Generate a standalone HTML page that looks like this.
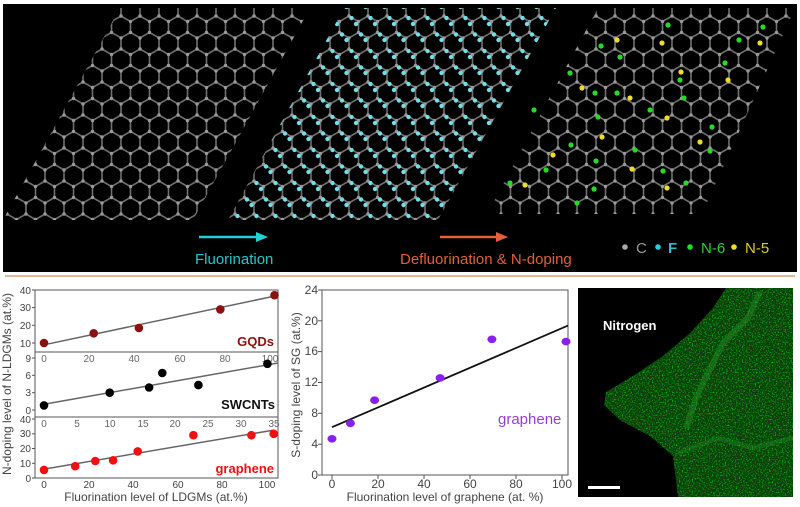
<!DOCTYPE html>
<html><head><meta charset="utf-8"><style>
html,body{margin:0;padding:0;background:#fff;width:800px;height:507px;overflow:hidden}
svg{display:block}
text{font-family:"Liberation Sans",sans-serif}
</style></head><body>
<svg width="800" height="507" viewBox="0 0 800 507" xmlns="http://www.w3.org/2000/svg">
<defs>
<pattern id="hex" patternUnits="userSpaceOnUse" width="19" height="33" patternTransform="translate(16.5,16)">
<path d="M9.5,0 L19,5.5 L19,16.5 L9.5,22 L0,16.5 L0,5.5 Z M9.5,22 L9.5,33" fill="none" stroke="#707070" stroke-width="1.6"/>
<g fill="#9a9a9a"><circle cx="9.5" cy="0" r="1.7"/><circle cx="19" cy="5.5" r="1.7"/><circle cx="19" cy="16.5" r="1.7"/><circle cx="9.5" cy="22" r="1.7"/><circle cx="0" cy="16.5" r="1.7"/><circle cx="0" cy="5.5" r="1.7"/><circle cx="9.5" cy="33" r="1.7"/></g>
</pattern>
<pattern id="fl" patternUnits="userSpaceOnUse" width="19" height="33" patternTransform="translate(16.5,16)">
<g fill="#6fe0e8"><circle cx="12" cy="2" r="2.2"/><circle cx="2.5" cy="18.5" r="2.2"/><circle cx="16.5" cy="8" r="2.2"/><circle cx="7" cy="24" r="2.2"/></g>
</pattern>
<filter id="nz" x="0" y="0" width="100%" height="100%">
<feTurbulence type="fractalNoise" baseFrequency="0.7" numOctaves="2" seed="3" result="t"/>
<feColorMatrix in="t" type="matrix" values="0 0 0 0 0  0 0 0 0 0.8  0 0 0 0 0  0 0 0 3 -1.5"/>
<feComposite in2="SourceGraphic" operator="in"/>
</filter>
</defs>
<rect x="3" y="4" width="794" height="268" fill="#000"/>
<polygon points="120,8 310,8 193,220 3,220" fill="url(#hex)"/>
<polygon points="344,8 556,8 438,220 228,220" fill="url(#hex)"/>
<polygon points="344,8 556,8 438,220 228,220" fill="url(#fl)"/>
<polygon points="598,8 795,8 702,214 487,214" fill="url(#hex)"/>
<g fill="#22dd22">
<circle cx="668" cy="25" r="2.6"/><circle cx="763" cy="27" r="2.6"/><circle cx="601" cy="46" r="2.6"/><circle cx="739" cy="40" r="2.6"/><circle cx="620" cy="57" r="2.6"/><circle cx="725" cy="63" r="2.6"/><circle cx="570" cy="73" r="2.6"/><circle cx="680" cy="80" r="2.6"/><circle cx="595" cy="93" r="2.6"/><circle cx="617" cy="93" r="2.6"/><circle cx="684" cy="98" r="2.6"/><circle cx="534" cy="110" r="2.6"/><circle cx="598" cy="117" r="2.6"/><circle cx="712" cy="127" r="2.6"/><circle cx="571" cy="145" r="2.6"/><circle cx="635" cy="150" r="2.6"/><circle cx="546" cy="170" r="2.6"/><circle cx="596" cy="161" r="2.6"/><circle cx="663" cy="171" r="2.6"/><circle cx="510" cy="183" r="2.6"/><circle cx="594" cy="189" r="2.6"/><circle cx="686" cy="183" r="2.6"/><circle cx="577" cy="203" r="2.6"/><circle cx="710" cy="151" r="2.6"/><circle cx="650" cy="110" r="2.6"/>
</g>
<g fill="#eedd22">
<circle cx="617" cy="40" r="2.6"/><circle cx="662" cy="43" r="2.6"/><circle cx="760" cy="43" r="2.6"/><circle cx="681" cy="72" r="2.6"/><circle cx="582" cy="88" r="2.6"/><circle cx="728" cy="80" r="2.6"/><circle cx="630" cy="98" r="2.6"/><circle cx="667" cy="118" r="2.6"/><circle cx="602" cy="137" r="2.6"/><circle cx="700" cy="142" r="2.6"/><circle cx="553" cy="155" r="2.6"/><circle cx="632" cy="169" r="2.6"/><circle cx="525" cy="185" r="2.6"/><circle cx="667" cy="188" r="2.6"/>
</g>
<line x1="199" y1="237" x2="258" y2="237" stroke="#22d0d8" stroke-width="2.5"/>
<polygon points="256,232 268,237 256,242" fill="#22d0d8"/>
<text x="195" y="264" font-size="15" fill="#22c8d0">Fluorination</text>
<line x1="440" y1="237" x2="498" y2="237" stroke="#e8603a" stroke-width="2.5"/>
<polygon points="496,232 508,237 496,242" fill="#e8603a"/>
<text x="400" y="264" font-size="15" fill="#e0603a">Defluorination &amp; N-doping</text>
<circle cx="625" cy="247" r="2.8" fill="#aaa"/><text x="636" y="253" font-size="15" fill="#999">C</text>
<circle cx="658" cy="247" r="2.8" fill="#33ccdd"/><text x="668" y="253" font-size="15" font-weight="bold" fill="#33bbcc">F</text>
<circle cx="690" cy="247" r="2.8" fill="#22dd22"/><text x="701" y="253" font-size="15" fill="#33cc33">N-6</text>
<circle cx="734" cy="247" r="2.8" fill="#eedd22"/><text x="745" y="253" font-size="15" fill="#ddcc22">N-5</text>
<line x1="5" y1="276" x2="795" y2="276" stroke="#e0b898" stroke-width="2"/>

<g stroke="#555" stroke-width="1" fill="none">
<rect x="35" y="290" width="243" height="188"/>
<line x1="35" y1="352" x2="278" y2="352"/>
<line x1="35" y1="417" x2="278" y2="417"/>
</g>
<g stroke="#555" stroke-width="1">
<line x1="32" y1="343" x2="35" y2="343"/><line x1="32" y1="325.3" x2="35" y2="325.3"/><line x1="32" y1="307.6" x2="35" y2="307.6"/><line x1="32" y1="290" x2="35" y2="290"/>
<line x1="32" y1="410" x2="35" y2="410"/><line x1="32" y1="392.7" x2="35" y2="392.7"/><line x1="32" y1="375.3" x2="35" y2="375.3"/><line x1="32" y1="358" x2="35" y2="358"/>
<line x1="32" y1="478" x2="35" y2="478"/><line x1="32" y1="463.3" x2="35" y2="463.3"/><line x1="32" y1="448.5" x2="35" y2="448.5"/><line x1="32" y1="433.8" x2="35" y2="433.8"/><line x1="32" y1="419" x2="35" y2="419"/>
</g>
<g font-size="10" fill="#444" text-anchor="end">
<text x="31" y="347">10</text><text x="31" y="329">20</text><text x="31" y="311">30</text><text x="31" y="294">40</text>
<text x="31" y="414">0</text><text x="31" y="396">3</text><text x="31" y="379">6</text><text x="31" y="362">9</text>
<text x="31" y="482">0</text><text x="31" y="467">10</text><text x="31" y="452">20</text><text x="31" y="437">30</text><text x="31" y="423">40</text>
</g>
<g font-size="10" fill="#666" text-anchor="middle">
<text x="44" y="362">0</text><text x="89" y="362">20</text><text x="134" y="362">40</text><text x="180" y="362">60</text><text x="225" y="362">80</text><text x="270" y="362">100</text>
<text x="44" y="427">0</text><text x="77" y="427">5</text><text x="110" y="427">10</text><text x="143" y="427">15</text><text x="175" y="427">20</text><text x="208" y="427">25</text><text x="241" y="427">30</text><text x="274" y="427">35</text>
<text x="44" y="488" fill="#444">0</text><text x="89" y="488" fill="#444">20</text><text x="133" y="488" fill="#444">40</text><text x="178" y="488" fill="#444">60</text><text x="222" y="488" fill="#444">80</text><text x="267" y="488" fill="#444">100</text>
</g>
<g stroke="#666" stroke-width="1.5">
<line x1="44" y1="344.8" x2="274.5" y2="296.1"/>
<line x1="44" y1="404.2" x2="278" y2="363"/>
<line x1="44" y1="469.1" x2="273.7" y2="430.1"/>
</g>
<g fill="#8b1010"><circle cx="44" cy="343" r="4.3"/><circle cx="93.7" cy="333.3" r="4.3"/><circle cx="138.9" cy="328" r="4.3"/><circle cx="220.3" cy="309.4" r="4.3"/><circle cx="274.5" cy="295.2" r="4.3"/></g>
<g fill="#000"><circle cx="44" cy="405.4" r="4.3"/><circle cx="109.7" cy="392.7" r="4.3"/><circle cx="149.1" cy="387.5" r="4.3"/><circle cx="162.3" cy="373" r="4.3"/><circle cx="198.4" cy="385.1" r="4.3"/><circle cx="267.4" cy="363.8" r="4.3"/></g>
<g fill="#f01010"><circle cx="44" cy="469.9" r="4.3"/><circle cx="75.2" cy="466.2" r="4.3"/><circle cx="95.3" cy="461" r="4.3"/><circle cx="113.1" cy="460.3" r="4.3"/><circle cx="137.7" cy="451.4" r="4.3"/><circle cx="193.4" cy="435.2" r="4.3"/><circle cx="251.4" cy="435.2" r="4.3"/><circle cx="273.7" cy="433.8" r="4.3"/></g>
<text x="274" y="346" font-size="13" font-weight="bold" fill="#8b1010" text-anchor="end">GQDs</text>
<text x="275" y="409" font-size="13" font-weight="bold" fill="#111" text-anchor="end">SWCNTs</text>
<text x="274" y="473" font-size="13" font-weight="bold" fill="#f01010" text-anchor="end">graphene</text>
<text transform="translate(11,384) rotate(-90)" font-size="12" fill="#444" text-anchor="middle">N-doping level of N-LDGMs (at.%)</text>
<text x="156" y="501" font-size="12" fill="#444" text-anchor="middle">Fluorination level of LDGMs (at.%)</text>

<rect x="322" y="290" width="246" height="185" fill="none" stroke="#555" stroke-width="1"/>
<g stroke="#555" stroke-width="1">
<line x1="318" y1="475" x2="322" y2="475"/><line x1="318" y1="444.2" x2="322" y2="444.2"/><line x1="318" y1="413.3" x2="322" y2="413.3"/><line x1="318" y1="382.5" x2="322" y2="382.5"/><line x1="318" y1="351.6" x2="322" y2="351.6"/><line x1="318" y1="320.8" x2="322" y2="320.8"/><line x1="318" y1="290" x2="322" y2="290"/>
<line x1="332" y1="475" x2="332" y2="479"/><line x1="378" y1="475" x2="378" y2="479"/><line x1="424" y1="475" x2="424" y2="479"/><line x1="470" y1="475" x2="470" y2="479"/><line x1="516" y1="475" x2="516" y2="479"/><line x1="562" y1="475" x2="562" y2="479"/>
</g>
<g font-size="12" fill="#444" text-anchor="end">
<text x="318" y="479">0</text><text x="318" y="448">4</text><text x="318" y="417">8</text><text x="318" y="386">12</text><text x="318" y="355">16</text><text x="318" y="325">20</text><text x="318" y="294">24</text>
</g>
<g font-size="12" fill="#444" text-anchor="middle">
<text x="332" y="488">0</text><text x="378" y="488">20</text><text x="424" y="488">40</text><text x="470" y="488">60</text><text x="516" y="488">80</text><text x="562" y="488">100</text>
</g>
<line x1="332" y1="427.2" x2="568" y2="325.6" stroke="#111" stroke-width="1.8"/>
<g fill="#8a1ef0"><ellipse cx="332" cy="438.8" rx="4.5" ry="3.8"/><ellipse cx="350.4" cy="423.3" rx="4.5" ry="3.8"/><ellipse cx="374.6" cy="400.2" rx="4.5" ry="3.8"/><ellipse cx="440.1" cy="377.9" rx="4.5" ry="3.8"/><ellipse cx="491.9" cy="339.3" rx="4.5" ry="3.8"/><ellipse cx="566" cy="341.6" rx="4.5" ry="3.8"/></g>
<text x="498" y="424" font-size="15" fill="#9a3ad6">graphene</text>
<text transform="translate(300,385) rotate(-90)" font-size="12" fill="#444" text-anchor="middle">S-doping level of SG (at.%)</text>
<text x="445" y="501" font-size="12" fill="#444" text-anchor="middle">Fluorination level of graphene (at. %)</text>

<rect x="578" y="288" width="215" height="209" fill="#000"/>
<g transform="translate(578,288)">
<polygon points="148,0 215,0 215,209 100,209 95,168 72,148 42,132 26,117 28,104 55,88 85,68 112,45 135,20" fill="#0d3d0d"/>
<polygon points="148,0 215,0 215,209 100,209 95,168 72,148 42,132 26,117 28,104 55,88 85,68 112,45 135,20" fill="#fff" filter="url(#nz)" opacity="0.9"/>
<path d="M182,4 L170,30 L145,55 L130,85 L118,110 L108,140" fill="none" stroke="#2a9a2a" stroke-width="6" opacity="0.4"/>
<path d="M100,165 L140,150 L175,160 L215,150" fill="none" stroke="#2a9a2a" stroke-width="5" opacity="0.3"/>
<text x="25" y="42" font-size="13" font-weight="bold" fill="#fff">Nitrogen</text>
<rect x="10" y="198" width="32" height="3" fill="#fff"/>
</g>
</svg>
</body></html>
